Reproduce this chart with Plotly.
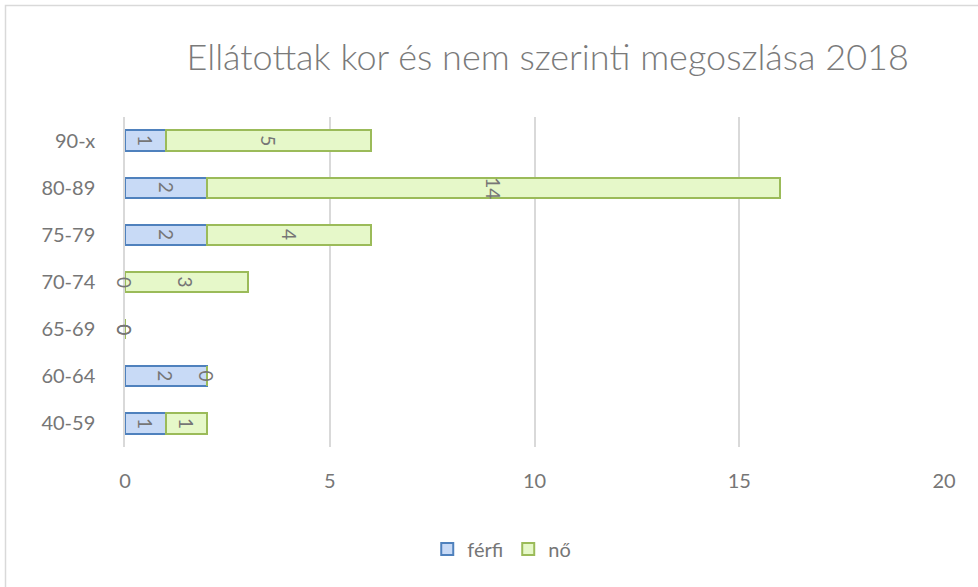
import plotly.graph_objects as go

categories = ["40-59", "60-64", "65-69", "70-74", "75-79", "80-89", "90-x"]
ferfi = [1, 2, 0, 0, 2, 2, 1]
no = [1, 0, 0, 3, 4, 14, 5]
x_ticks = [0, 5, 10, 15, 20]

TXT = "#767676"
FONT = "Lato, Calibri, Arial, sans-serif"

fig = go.Figure()
fig.add_trace(go.Bar(
    y=categories, x=ferfi, orientation="h", name="férfi",
    marker=dict(color="#c8daf6", line=dict(color="#4f81bd", width=2)),
))
fig.add_trace(go.Bar(
    y=categories, x=no, orientation="h", name="nő",
    marker=dict(color="#e6f8c9", line=dict(color="#9bbb59", width=2)),
))

annotations = []
for c, f, n in zip(categories, ferfi, no):
    annotations.append(dict(x=f / 2, y=c, xref="x", yref="y", text=str(f),
                            showarrow=False, textangle=90,
                            font=dict(size=19, color=TXT, family=FONT)))
    annotations.append(dict(x=f + n / 2, y=c, xref="x", yref="y", text=str(n),
                            showarrow=False, textangle=90,
                            font=dict(size=19, color=TXT, family=FONT)))

fig.update_layout(
    width=978, height=587,
    barmode="stack", bargap=0.57,
    paper_bgcolor="white", plot_bgcolor="white",
    margin=dict(l=125, r=34, t=117, b=140),
    font=dict(family=FONT, color=TXT, size=20),
    title=dict(text="Ellátottak kor és nem szerinti megoszlása 2018",
               xref="container", x=0.56, xanchor="center",
               yref="container", y=1 - 57 / 587, yanchor="middle",
               font=dict(size=36, color="#7a7a7a", family=FONT, weight=300)),
    xaxis=dict(range=[0, 20], tickvals=x_ticks, showgrid=True,
               gridcolor="#d9d9d9", gridwidth=1.5, zeroline=False,
               showline=False, ticks="", ticklabelstandoff=20,
               tickfont=dict(size=20, color=TXT)),
    yaxis=dict(categoryorder="array", categoryarray=categories,
               showgrid=False, zeroline=False, showline=True,
               linecolor="#d9d9d9", linewidth=1.5, ticks="",
               ticklabelstandoff=24, tickfont=dict(size=20, color=TXT)),
    legend=dict(orientation="h", x=0.46, xanchor="center", y=-102 / 330,
                yanchor="middle", font=dict(size=20, color=TXT),
                itemwidth=30, traceorder="normal", tracegroupgap=0),
    annotations=annotations,
    shapes=[dict(type="rect", xref="paper", yref="paper",
                 x0=-119.5 / 819, x1=1 + 60 / 819,
                 y0=-170 / 330, y1=1 + 111.5 / 330,
                 line=dict(color="#d9d9d9", width=1.5))],
)

fig.write_html("out.html", config={"displayModeBar": False},
               post_script="document.body.style.margin='0';document.body.style.padding='0';")
